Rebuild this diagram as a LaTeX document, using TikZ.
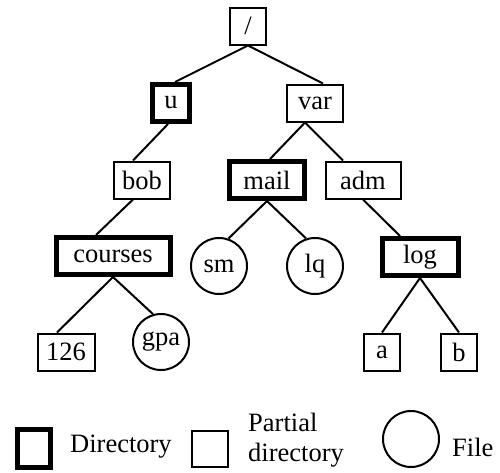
\documentclass[tikz,border=0pt]{standalone}
\usepackage{fontspec}
\setmainfont{Liberation Serif}
\tikzset{
  part/.style={draw, line width=2pt, minimum height=37pt, minimum width=36pt, inner sep=0pt},
  dir/.style={part, line width=5pt, minimum height=37pt, minimum width=37pt},
  file/.style={draw, circle, line width=2pt, minimum size=56pt, inner sep=0pt},
  edge/.style={line width=2pt}
}
\begin{document}
\begin{tikzpicture}[x=1pt, y=-1pt, font=\fontsize{26.5}{30}\selectfont]
                \useasboundingbox (0,0) rectangle (500,472);
                \node [part] (root) at (248,26) {/};
                \node [dir] (u) at (171,103) {u};
                \node [part, minimum width=56pt] (var) at (315,103) {var};
                \node [part, minimum width=56pt] (bob) at (142,180) {bob};
                \node [dir, minimum width=75pt] (mail) at (267,180) {mail};
                \node [part, minimum width=75pt] (adm) at (363,180) {adm};
                \node [dir, minimum width=114pt] (courses) at (113,256) {courses};
                \node [file] (sm) at (219,266) {sm};
                \node [file] (lq) at (315,266) {lq};
                \node [dir, minimum width=76pt] (log) at (420,257) {log};
                \node [part, minimum width=57pt] (n126) at (66,352) {126};
                \node [file] (gpa) at (161,342) {gpa};
                \node [part] (a) at (382,352) {a};
                \node [part] (b) at (459,352) {b};
                \draw [edge] (root.south) -- ([xshift=4pt]u.north);
                \draw [edge] (root.south) -- ([xshift=8pt]var.north);
                \draw [edge] ([xshift=-3pt]u.south) -- ([xshift=-9pt]bob.north);
                \draw [edge] ([xshift=-10pt]var.south) -- ([xshift=3pt]mail.north);
                \draw [edge] ([xshift=-10pt]var.south) -- ([xshift=-20pt]adm.north);
                \draw [edge] ([xshift=-9pt]bob.south) -- ([xshift=-17pt]courses.north);
                \draw [edge] (mail.south) -- (sm.71);
                \draw [edge] (mail.south) -- (lq.108);
                \draw [edge] (adm.south) -- ([xshift=-20pt]log.north);
                \draw [edge] (courses.south) -- ([xshift=-9pt]n126.north);
                \draw [edge] (courses.south) -- (gpa.106);
                \draw [edge] (log.south) -- (a.north);
                \draw [edge] (log.south) -- (b.north);
                % legend
                \node [dir, minimum width=33pt, minimum height=38pt] (keydir) at (34,448) {};
                \node [anchor=west, inner sep=0pt] (keydirtext) at (70,447) {Directory};
                \node [part, minimum height=36pt] (keypart) at (210,449) {};
                \node [anchor=west, align=left, inner sep=0pt] (keyparttext) at (248,440) {Partial\\directory};
                \node [file] (keyfile) at (411,439) {};
                \node [anchor=west, inner sep=0pt] (keyfiletext) at (452,447) {File};
\end{tikzpicture}
\end{document}
